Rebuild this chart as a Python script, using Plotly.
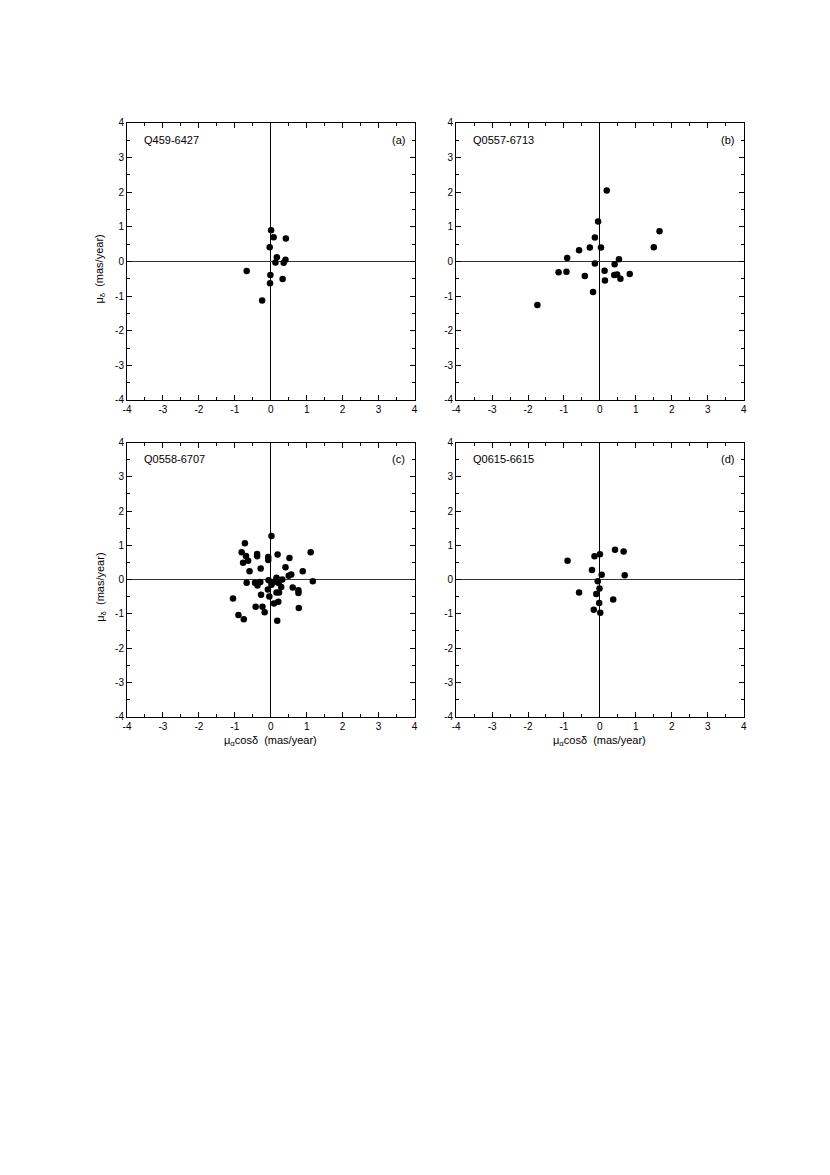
import plotly.graph_objects as go
from plotly.subplots import make_subplots

# proper motions (mas/year)
names = ["Q459-6427", "Q0557-6713", "Q0558-6707", "Q0615-6615"]
tags = ["(a)", "(b)", "(c)", "(d)"]
tick_vals = [-4, -3, -2, -1, 0, 1, 2, 3, 4]
tick_text = ["-4", "-3", "-2", "-1", "0", "1", "2", "3", "4"]

a_x = [0.01, 0.08, 0.42, -0.03, 0.17, 0.13, 0.41, 0.36, -0.67, -0.01, 0.33, -0.02, -0.24]
a_y = [0.90, 0.70, 0.66, 0.41, 0.12, -0.03, 0.05, -0.04, -0.28, -0.39, -0.51, -0.63, -1.13]

b_x = [0.19, -0.05, -0.14, 1.66, 1.50, -0.58, -0.28, 0.03, -0.91, -0.14, 0.53, 0.41,
       -1.15, -0.93, 0.13, -0.42, 0.40, 0.48, 0.57, 0.83, 0.14, -0.19, -1.74]
b_y = [2.05, 1.15, 0.69, 0.87, 0.41, 0.32, 0.40, 0.40, 0.10, -0.06, 0.06, -0.08,
       -0.31, -0.30, -0.27, -0.42, -0.39, -0.38, -0.50, -0.36, -0.55, -0.88, -1.26]

c_x = [0.02, -0.72, -0.81, -0.69, -0.38, -0.38, -0.07, -0.07, 0.19, 0.52, 1.11, -0.63,
       -0.77, -0.28, -0.59, 0.41, 0.89, 0.57, 0.50, 0.16, 0.32, -0.06, -0.67, -0.44,
       -0.29, -0.37, 0.07, 0.13, 0.22, 1.17, 0.02, -0.08, 0.29, 0.61, 0.77, 0.77,
       0.16, 0.23, -0.27, -0.04, -1.05, 0.21, 0.09, -0.42, -0.23, 0.78, -0.17, -0.90,
       -0.75, 0.18]
c_y = [1.27, 1.06, 0.80, 0.69, 0.75, 0.68, 0.66, 0.57, 0.73, 0.63, 0.80, 0.55,
       0.49, 0.32, 0.24, 0.36, 0.24, 0.15, 0.11, 0.05, 0.00, -0.02, -0.09, -0.09,
       -0.07, -0.17, -0.07, -0.05, -0.10, -0.05, -0.15, -0.29, -0.22, -0.23, -0.31, -0.39,
       -0.38, -0.38, -0.44, -0.49, -0.55, -0.65, -0.70, -0.79, -0.79, -0.83, -0.95, -1.03,
       -1.16, -1.20]

d_x = [0.42, 0.66, 0.00, -0.15, -0.90, -0.22, 0.05, 0.69, -0.06, -0.01, -0.58, -0.10,
       0.37, -0.02, -0.17, 0.01]
d_y = [0.87, 0.82, 0.74, 0.68, 0.55, 0.28, 0.14, 0.13, -0.05, -0.26, -0.38, -0.42,
       -0.58, -0.68, -0.88, -0.97]

xs = [a_x, b_x, c_x, d_x]
ys = [a_y, b_y, c_y, d_y]

# the page body has an 8px margin, so the figure itself is 16px smaller
OFF = 8
W, H = 830 - 2 * OFF, 1175 - 2 * OFF
FONT = "Liberation Sans, Arial, sans-serif"

# panel boxes in page pixels: left, right / top, bottom
cols = [(124, 414), (456, 746)]
rows = [(118, 398), (441, 718)]


def px(v):
    return (v - OFF) / W


def py(v):
    return 1 - (v - OFF) / H


fig = make_subplots(rows=2, cols=2)

for i in range(4):
    r, c = i // 2 + 1, i % 2 + 1
    fig.add_trace(
        go.Scatter(x=xs[i], y=ys[i], mode="markers",
                   marker=dict(color="black", size=6.5),
                   showlegend=False, cliponaxis=False),
        row=r, col=c,
    )

axis_style = dict(
    range=[-4, 4], tickmode="array", tickvals=tick_vals, ticktext=tick_text,
    ticks="inside", ticklen=5, tickwidth=1, tickcolor="black",
    minor=dict(ticks="inside", dtick=0.5, tick0=0, ticklen=3, tickwidth=1, tickcolor="black"),
    showline=True, linecolor="black", linewidth=1, mirror="ticks",
    showgrid=False, zeroline=True, zerolinecolor="black", zerolinewidth=1,
    tickfont=dict(family=FONT, size=10, color="black"),
    fixedrange=True,
)

for i in range(4):
    r, c = i // 2 + 1, i % 2 + 1
    x0, x1 = cols[c - 1]
    y0, y1 = rows[r - 1]
    fig.update_xaxes(axis_style, domain=[px(x0), px(x1)], row=r, col=c)
    fig.update_yaxes(axis_style, domain=[py(y1), py(y0)], row=r, col=c)
    fig.update_yaxes(zerolinecolor="#333", row=r, col=c)

    # sample name and panel tag
    fig.add_annotation(x=px(x0 + 15), y=py(y0 + 17), xref="paper", yref="paper",
                       text=names[i], showarrow=False, xanchor="left", yanchor="middle",
                       font=dict(family=FONT, size=11, color="black"))
    fig.add_annotation(x=px(x1 - 8), y=py(y0 + 17), xref="paper", yref="paper",
                       text=tags[i], showarrow=False, xanchor="right", yanchor="middle",
                       font=dict(family=FONT, size=11, color="black"))

# axis titles
for y0, y1 in rows:
    fig.add_annotation(x=px(97), y=py((y0 + y1) / 2 + 8), xref="paper", yref="paper",
                       text="μ<sub>δ</sub>  (mas/year)", textangle=-90, showarrow=False,
                       xanchor="center", yanchor="middle",
                       font=dict(family=FONT, size=11, color="black"))
for x0, x1 in cols:
    fig.add_annotation(x=px((x0 + x1) / 2), y=py(743), xref="paper", yref="paper",
                       text="μ<sub>α</sub>cosδ  (mas/year)", showarrow=False,
                       xanchor="center", yanchor="middle",
                       font=dict(family=FONT, size=11, color="black"))

fig.update_layout(
    width=W, height=H, autosize=False,
    margin=dict(l=0, r=0, t=0, b=0),
    paper_bgcolor="white", plot_bgcolor="white",
    font=dict(family=FONT, color="black"),
)

fig.write_html("out.html")
